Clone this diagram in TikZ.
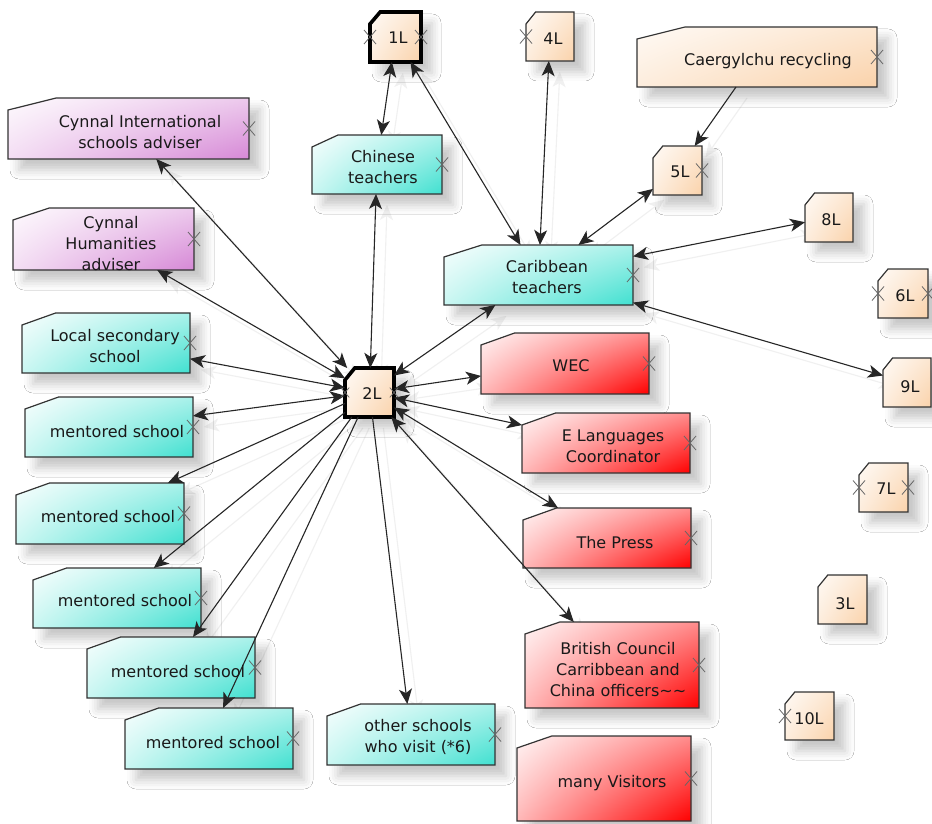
\documentclass[tikz,border=0pt]{standalone}
\usepackage{fontspec}
\setmainfont{DejaVu Sans}
\usetikzlibrary{calc,fit,arrows.meta,shadows.blur,shadings}

% fill colours: saturated corner of each family
\definecolor{tealD}{RGB}{64,224,208}
\definecolor{redD}{RGB}{255,0,0}
\definecolor{plumD}{RGB}{214,136,214}
\definecolor{peachD}{RGB}{250,210,170}

\tikzset{
  x=1pt, y=-1pt,
  boxarea/.style={inner sep=0pt, outer sep=0pt, draw=none, fit={#1}},
  boxline/.style={draw=black!80, line width=1.2pt, line join=miter},
  heavyline/.style={draw=black, line width=3.6pt, line join=miter},
  boxshadow/.style={blur shadow={shadow xshift=11pt, shadow yshift=-11pt,
      shadow blur radius=9pt, shadow opacity=22}},
  cornerfill/.style={shading=bilinear interpolation,
      upper left=#1!4!white, upper right=#1!45!white,
      lower left=#1!28!white, lower right=#1},
  tealfill/.style={cornerfill=tealD},
  redfill/.style={cornerfill=redD},
  plumfill/.style={cornerfill=plumD},
  peachfill/.style={shading=bilinear interpolation,
      upper left=peachD!12!white, upper right=peachD!55!white,
      lower left=peachD!40!white, lower right=peachD},
  boxtext/.style={font=\fontsize{16}{21}\selectfont, align=center, text=black!90, inner sep=0pt},
  link/.style={draw=black!85, line width=1.1pt,
      >={Stealth[length=15pt,width=13pt,inset=4pt]}},
  linkshade/.style={draw=black!6, line width=1.1pt,
      >={Stealth[length=15pt,width=13pt,inset=4pt]}},
  xmk/.style={draw=black!60, line width=0.8pt},
  xm/.pic={\draw[xmk] (-6,-7) -- (6,7) (-6,7) -- (6,-7);}
}

% box outline with the top-left corner cut off
\newcommand{\cutpath}[1]{(#1.south west) -- (#1.south east) -- (#1.north east)
  -- ($(#1.north west)!0.2!(#1.north east)$) -- ($(#1.north west)+(0,12)$) -- cycle}

\begin{document}
\begin{tikzpicture}
\useasboundingbox[fill=white] (0,0) rectangle (932,824);

% ---- box areas (used as anchors by the connectors) ----
\node[boxarea={(370,12) (421,62)}]   (n1) {};
\node[boxarea={(526,12) (574,61)}]   (n4) {};
\node[boxarea={(637,27) (877,87)}]   (caer) {};
\node[boxarea={(653,146) (702,195)}] (n5) {};
\node[boxarea={(805,193) (853,242)}] (n8) {};
\node[boxarea={(878,269) (928,318)}] (n6) {};
\node[boxarea={(883,358) (931,407)}] (n9) {};
\node[boxarea={(859,463) (908,512)}] (n7) {};
\node[boxarea={(818,575) (867,624)}] (n3) {};
\node[boxarea={(785,692) (834,740)}] (n10) {};
\node[boxarea={(345,368) (394,417)}] (n2) {};
\node[boxarea={(8,98) (249,159)}]    (cint) {};
\node[boxarea={(13,208) (194,270)}]  (chum) {};
\node[boxarea={(312,135) (442,194)}] (chin) {};
\node[boxarea={(444,245) (633,305)}] (carib) {};
\node[boxarea={(481,333) (649,394)}] (wec) {};
\node[boxarea={(522,413) (690,473)}] (elang) {};
\node[boxarea={(523,508) (691,568)}] (press) {};
\node[boxarea={(525,622) (699,708)}] (brit) {};
\node[boxarea={(517,736) (691,821)}] (visit) {};
\node[boxarea={(22,313) (190,373)}]  (local) {};
\node[boxarea={(25,397) (193,457)}]  (ms1) {};
\node[boxarea={(16,483) (184,544)}]  (ms2) {};
\node[boxarea={(33,568) (201,628)}]  (ms3) {};
\node[boxarea={(87,637) (255,698)}]  (ms4) {};
\node[boxarea={(125,708) (293,769)}] (ms5) {};
\node[boxarea={(327,704) (495,765)}] (other) {};

% ---- faint connector shadows ----
\begin{scope}[transform canvas={shift={(11pt,-11pt)}}]
  \foreach \a/\b in {n1/chin, n1/carib, n4/carib, n5/carib, carib/n8, carib/n9,
      chin/n2, carib/n2, cint/n2, chum/n2, local/n2, ms1/n2, wec/n2, elang/n2,
      press/n2, brit/n2}
    \draw[linkshade,<->] (\a) -- (\b);
  \foreach \a/\b in {caer/n5, n2/ms2, n2/ms3, n2/ms4, n2/ms5, n2/other}
    \draw[linkshade,->] (\a) -- (\b);
\end{scope}

% ---- boxes ----
\foreach \n in {n4,caer,n5,n8,n6,n9,n7,n3,n10}
  \path[boxline, peachfill, boxshadow] \cutpath{\n};
\foreach \n in {n1,n2}
  \path[heavyline, peachfill, boxshadow] \cutpath{\n};
\foreach \n in {cint,chum}
  \path[boxline, plumfill, boxshadow] \cutpath{\n};
\foreach \n in {chin,carib,local,ms1,ms2,ms3,ms4,ms5,other}
  \path[boxline, tealfill, boxshadow] \cutpath{\n};
\foreach \n in {wec,elang,press,brit,visit}
  \path[boxline, redfill, boxshadow] \cutpath{\n};

% ---- connectors ----
\foreach \a/\b in {n1/chin, n1/carib, n4/carib, n5/carib, carib/n8, carib/n9,
    chin/n2, carib/n2, cint/n2, chum/n2, local/n2, ms1/n2, wec/n2, elang/n2,
    press/n2, brit/n2}
  \draw[link,<->] (\a) -- (\b);
\foreach \a/\b in {caer/n5, n2/ms2, n2/ms3, n2/ms4, n2/ms5, n2/other}
  \draw[link,->] (\a) -- (\b);

% ---- labels ----
\node[boxtext] (t1)  at (398,38)  {1L};
\node[boxtext] (t4)  at (553,39)  {4L};
\node[boxtext] (tcaer) at (768,61) {Caergylchu recycling};
\node[boxtext] (t5)  at (680,172) {5L};
\node[boxtext] (t8)  at (831,220) {8L};
\node[boxtext] (t6)  at (905,296) {6L};
\node[boxtext] (t9)  at (910,387) {9L};
\node[boxtext] (t7)  at (886,489) {7L};
\node[boxtext] (t3)  at (845,604) {3L};
\node[boxtext] (t10) at (809,719) {10L};
\node[boxtext] (t2)  at (372,394) {2L};
\node[boxtext] (tcint) at (140,132) {Cynnal International\\schools adviser};
\node[boxtext] (tchum) at (111,244) {Cynnal\\Humanities\\adviser};
\node[boxtext] (tchin) at (383,167) {Chinese\\teachers};
\node[boxtext] (tcarib) at (547,277) {Caribbean\\teachers};
\node[boxtext] (twec) at (571,366) {WEC};
\node[boxtext] (telang) at (613,446) {E Languages\\Coordinator};
\node[boxtext] (tpress) at (615,543) {The Press};
\node[boxtext] (tbrit) at (618,670) {British Council\\Carribbean and\\China officers\textasciitilde\textasciitilde};
\node[boxtext] (tvisit) at (612,783) {many Visitors};
\node[boxtext] (tlocal) at (115,346) {Local secondary\\school};
\node[boxtext] (tms1) at (117,432) {mentored school};
\node[boxtext] (tms2) at (108,517) {mentored school};
\node[boxtext] (tms3) at (125,601) {mentored school};
\node[boxtext] (tms4) at (178,672) {mentored school};
\node[boxtext] (tms5) at (213,743) {mentored school};
\node[boxtext] (tother) at (418,737) {other schools\\who visit (*6)};

% ---- small cross markers on box edges ----
\foreach \p in {n1.west, n1.east, n4.west, caer.east, n5.east, n6.west, n6.east,
    n7.west, n7.east, n10.west, cint.east, chum.east, chin.east, carib.east,
    wec.east, elang.east, press.east, brit.east, visit.east, local.east,
    ms1.east, ms2.east, ms3.east, ms4.east, ms5.east, other.east}
  \pic at (\p) {xm};
\pic[scale=0.7] at (n2.west) {xm};
\pic[scale=0.7] at (n2.east) {xm};
\end{tikzpicture}
\end{document}
